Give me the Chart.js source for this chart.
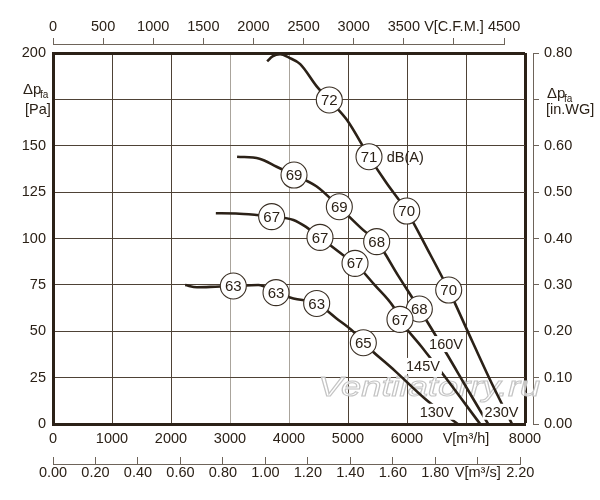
<!DOCTYPE html>
<html>
<head>
<meta charset="utf-8">
<script src="https://cdn.jsdelivr.net/npm/chart.js@4.4.1/dist/chart.umd.min.js"></script>
<style>
html,body{margin:0;padding:0;background:#fff}
</style>
</head>
<body>
<canvas id="myChart" width="600" height="500"></canvas>
<script>
// fan curves: V [m3/h] against dp_fa [Pa]
var q230 = [3630, 3720, 3850, 4000, 4190, 4470, 4680, 4980, 5360, 5650, 5990, 6350, 6710, 7100, 7450, 7780]
var p230 = [195.5, 198.2, 199.3, 197.5, 194, 182, 174.7, 164, 144, 130, 115, 94, 72, 45, 21, 0]

var q160 = [3120, 3500, 3790, 4085, 4470, 4850, 5260, 5490, 5850, 6210, 6670, 7020, 7375]
var p160 = [144.1, 143, 138.7, 134.2, 128, 117, 104.5, 98.3, 80, 62, 38, 19, 0]

var q145 = [2760, 3100, 3450, 3710, 4075, 4300, 4525, 4920, 5120, 5450, 5770, 5880, 6250, 6620, 7240]
var p145 = [113.6, 113.5, 112.7, 111.8, 110, 106, 100.6, 91, 86.6, 75, 63.2, 56.4, 41.5, 26.4, 0]

var q130 = [2240, 2440, 2750, 3060, 3480, 3780, 4075, 4470, 4800, 5090, 5260, 5800, 6330, 6860]
var p130 = [74.9, 73.7, 74, 74.4, 74.9, 70.8, 67.7, 65, 57, 49.8, 43.8, 28.5, 12.9, 0]

// noise level markers dB(A)
var dbQ = [4683, 5356, 5995, 6707, 4085, 4853, 5486, 6209, 3706, 4525, 5119, 5881, 3056, 3780, 4469, 5260]
var dbP = [174.7, 144.1, 114.8, 72.2, 134.2, 117.1, 98.3, 62, 111.8, 100.6, 86.6, 56.4, 74.4, 70.8, 65, 43.8]
var dbText = ['72', '71', '70', '70', '69', '69', '68', '68', '67', '67', '67', '67', '63', '63', '63', '65']

// curve names
var voltText = ['230V', '160V', '145V', '130V']
var voltQ = [7602, 6661, 6271, 6503]
var voltP = [6.6, 43.1, 31.3, 6.6]

// tick labels
var xLabels = ['0', '1000', '2000', '3000', '4000', '5000', '6000', 'V[m³/h]', '8000']
var cfmLabels = ['0', '500', '1000', '1500', '2000', '2500', '3000', '3500', 'V[C.F.M.]', '4500']
var msLabels = ['0.00', '0.20', '0.40', '0.60', '0.80', '1.00', '1.20', '1.40', '1.60', '1.80', 'V[m³/s]', '2.20']
var paLabels = ['0', '25', '50', '75', '100', '125', '150', '', '200']
var wgLabels = ['0.00', '0.10', '0.20', '0.30', '0.40', '0.50', '0.60', '', '0.80']

var CFM = 1.699   // m3/h per CFM
var dark = '#2b2117'
var gridDark = '#4e4236'
var gridLight = '#aaa49c'
var axisGrey = '#6e645a'
var fontFam = "'Liberation Sans', Arial, sans-serif"

function pts(qs, ps){
	var out = []
	for(var i=0;i<qs.length;i++){
		out.push({x: qs[i], y: ps[i]})
	}
	return out
}

function curve(qs, ps){
	return {
		type: 'line',
		data: pts(qs, ps),
		borderColor: dark,
		borderWidth: 2.6,
		pointRadius: 0,
		cubicInterpolationMode: 'monotone',
		fill: false,
		order: 1
	}
}

function $each(arr, fn){
	for(var i=0;i<arr.length;i++) fn(i, arr[i])
}

var extras = {
	id: 'extras',
	beforeDatasetsDraw: function(chart){
		var ctx = chart.ctx
		var a = chart.chartArea
		ctx.save()
		ctx.font = 'italic 28px ' + fontFam
		var txt = 'Ventilatorry.ru'
		var w = ctx.measureText(txt).width
		var cx = a.left + a.width*0.797
		var cy = a.top + a.height*0.903
		ctx.translate(cx, cy)
		ctx.scale(222/w, 1)
		ctx.textAlign = 'center'
		ctx.textBaseline = 'middle'
		ctx.fillStyle = 'rgba(255,255,255,0.75)'
		ctx.fillText(txt, 0, 0)
		ctx.strokeStyle = '#c4c4c4'
		ctx.lineWidth = 1
		ctx.strokeText(txt, 0, 0)
		ctx.restore()
	},
	afterDatasetsDraw: function(chart){
		var ctx = chart.ctx
		var x = chart.scales.x
		var y = chart.scales.y
		ctx.save()
		// numbers in the circles
		var meta = chart.getDatasetMeta(4)
		ctx.font = '15px ' + fontFam
		ctx.fillStyle = dark
		ctx.textAlign = 'center'
		ctx.textBaseline = 'middle'
		$each(meta.data, function(i, el){
			ctx.fillText(dbText[i], el.x, el.y + 1)
		})
		// voltage labels
		ctx.font = '14.5px ' + fontFam
		for(var i=0;i<voltText.length;i++){
			var px = x.getPixelForValue(voltQ[i])
			var py = y.getPixelForValue(voltP[i])
			var w = ctx.measureText(voltText[i]).width
			ctx.fillStyle = '#fff'
			ctx.fillRect(px - w/2 - 2, py - 8, w + 4, 16)
			ctx.fillStyle = dark
			ctx.fillText(voltText[i], px, py + 1)
		}
		// dB(A) next to the 71 marker
		ctx.textAlign = 'left'
		ctx.fillText('dB(A)', x.getPixelForValue(5655), y.getPixelForValue(144.1) + 1)
		ctx.restore()
	},
	afterDraw: function(chart){
		var ctx = chart.ctx
		var y = chart.scales.y
		var wg = chart.scales.wg
		var a = chart.chartArea
		var yy = y.getPixelForValue(175)
		ctx.save()
		ctx.fillStyle = dark
		ctx.textAlign = 'left'
		ctx.textBaseline = 'alphabetic'
		// left title
		ctx.font = '15px ' + fontFam
		ctx.fillText('Δp', a.left - 30, yy - 5)
		ctx.font = '10px ' + fontFam
		ctx.fillText('fa', a.left - 13, yy - 1.5)
		ctx.font = '14.5px ' + fontFam
		ctx.fillText('[Pa]', a.left - 28, yy + 15)
		// right title
		ctx.font = '15px ' + fontFam
		ctx.fillText('Δp', wg.left + 14, yy - 1)
		ctx.font = '10px ' + fontFam
		ctx.fillText('fa', wg.left + 31, yy + 2.5)
		ctx.font = '14.5px ' + fontFam
		ctx.fillText('[in.WG]', wg.left + 13, yy + 15)
		ctx.restore()
	},
	afterLayout: function(chart){
		var x = chart.scales.x
		var top = chart.scales.top
		var ms = chart.scales.ms
		var wg = chart.scales.wg
		// secondary axes sit a little off the plot frame
		top.top -= 9
		top.bottom -= 9
		top.right = x.getPixelForValue(4500*CFM)
		top.width = top.right - top.left
		ms.right = x.getPixelForValue(2.2*3600)
		ms.width = ms.right - ms.left
		wg.left += 8
		wg.right += 8
		$each([top, ms, wg], function(i, s){
			s.configure()
			s._gridLineItems = null
			s._labelItems = null
		})
	}
}

var tickFont = {family: fontFam, size: 14.5}

var mychart = document.getElementById('myChart').getContext('2d')

var chart = new Chart(mychart, {
	type: 'line',
	data: {
		datasets: [
			curve(q230, p230),
			curve(q160, p160),
			curve(q145, p145),
			curve(q130, p130),
			{
				type: 'scatter',
				data: pts(dbQ, dbP),
				pointRadius: 13,
				pointBackgroundColor: '#fff',
				pointBorderColor: '#3a2f24',
				pointBorderWidth: 1.1,
				showLine: false,
				order: 0
			}
		]
	},
	options: {
		responsive: false,
		animation: false,
		events: [],
		layout: {padding: 0},
		plugins: {legend: {display: false}, tooltip: {enabled: false}},
		scales: {
			x: {
				type: 'linear', position: 'bottom', min: 0, max: 8000,
				afterFit: function(s){ s.height = 40 },
				ticks: {stepSize: 1000, autoSkip: false, maxRotation: 0, padding: 6, color: dark, font: tickFont,
					callback: function(v, i){ return xLabels[i] }},
				grid: {drawTicks: false,
					color: function(c){ return (c.tick.value == 3000 || c.tick.value == 4000) ? gridLight : (c.tick.value == 8000 ? dark : gridDark) },
					lineWidth: function(c){ return c.tick.value == 8000 ? 3 : 1 }},
				border: {color: dark, width: 3}
			},
			ms: {
				type: 'linear', axis: 'x', position: 'bottom', min: 0, max: 2.2,
				afterFit: function(s){ s.height = 36 },
				ticks: {stepSize: 0.2, autoSkip: false, maxRotation: 0, padding: 7.3, color: dark, font: tickFont,
					callback: function(v, i){ return msLabels[i] }},
				grid: {drawOnChartArea: false, drawTicks: true, tickLength: -7, color: axisGrey},
				border: {color: axisGrey, width: 1}
			},
			top: {
				type: 'linear', axis: 'x', position: 'top', min: 0, max: 4500,
				afterFit: function(s){ s.height = 53 },
				ticks: {stepSize: 500, autoSkip: false, maxRotation: 0, padding: 2.3, color: dark, font: tickFont,
					callback: function(v, i){ return cfmLabels[i] }},
				grid: {drawOnChartArea: false, drawTicks: true, tickLength: 6, color: axisGrey},
				border: {color: axisGrey, width: 1}
			},
			y: {
				type: 'linear', position: 'left', min: 0, max: 200,
				afterFit: function(s){ s.width = 53 },
				ticks: {stepSize: 25, autoSkip: false, padding: 7, color: dark, font: tickFont,
					callback: function(v, i){ return paLabels[i] }},
				grid: {drawTicks: false,
					color: function(c){ return c.tick.value == 200 ? dark : gridDark },
					lineWidth: function(c){ return c.tick.value == 200 ? 3 : 1 }},
				border: {color: dark, width: 3}
			},
			wg: {
				type: 'linear', axis: 'y', position: 'right', min: 0, max: 0.8,
				afterFit: function(s){ s.width = 75 },
				ticks: {stepSize: 0.1, autoSkip: false, padding: 5, color: dark, font: tickFont,
					callback: function(v, i){ return wgLabels[i] }},
				grid: {drawOnChartArea: false, drawTicks: true, tickLength: 6, color: axisGrey},
				border: {color: axisGrey, width: 1}
			}
		}
	},
	plugins: [extras]
})
</script>
</body>
</html>
